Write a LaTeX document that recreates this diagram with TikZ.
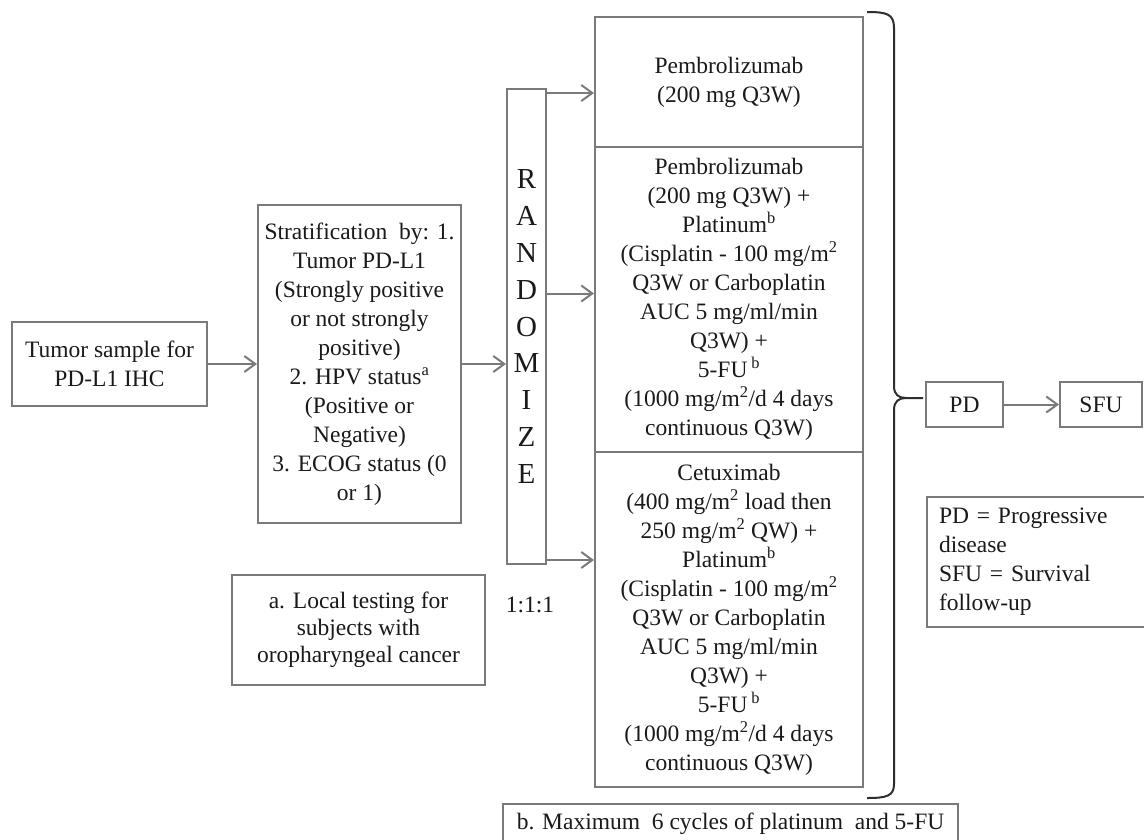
\documentclass[tikz,border=0pt]{standalone}
\usepackage{fontspec}
\setmainfont{Liberation Serif}
\usetikzlibrary{arrows.meta}
\definecolor{ln}{HTML}{7A7A7A}
\definecolor{tx}{HTML}{1A1A1A}
\definecolor{br}{HTML}{2E2E2E}
\begin{document}
\begin{tikzpicture}[x=1pt,y=-1pt,
  box/.style={draw=ln, line width=2pt, rectangle, inner sep=0pt, align=center, text=tx,
    font=\fontsize{23.5}{29}\selectfont},
  arr/.style={draw=ln, line width=2pt, -{Straight Barb[length=11pt,width=16pt,line width=2pt]}},
  lbl/.style={text=tx, inner sep=0pt, font=\fontsize{23.5}{29}\selectfont}]
\useasboundingbox (0,0) rectangle (1144,839);
\fill[white] (0,0) rectangle (1144,839);

\node[box, minimum width=195pt, minimum height=84pt] (tumor) at (109.5,364)
  {Tumor sample for\\PD-L1 IHC};
\node[box, minimum width=203pt, minimum height=318pt] (strat) at (359.5,364)
  {Stratification~ by: 1.\\Tumor PD-L1\\(Strongly positive\\or not strongly\\positive)\\2. HPV status\textsuperscript{a}\\(Positive or\\Negative)\\3. ECOG status (0\\or 1)};
\node[box, minimum width=39pt, minimum height=475pt, font=\fontsize{29}{36.9}\selectfont] (rand) at (526.5,326.5)
  {R\\A\\N\\D\\O\\M\\I\\Z\\E};
\node[box, minimum width=268pt, minimum height=130pt] (arm1) at (729,82)
  {Pembrolizumab\\(200 mg Q3W)};
\node[box, minimum width=268pt, minimum height=305pt] (arm2) at (729,299.5)
  {Pembrolizumab\\(200 mg Q3W) +\\Platinum\textsuperscript{b}\\(Cisplatin - 100 mg/m\textsuperscript{2}\\Q3W or Carboplatin\\AUC 5 mg/ml/min\\Q3W) +\\5-FU\,\textsuperscript{b}\\(1000 mg/m\textsuperscript{2}/d 4 days\\continuous Q3W)};
\node[box, minimum width=268pt, minimum height=335pt] (arm3) at (729,619.5)
  {Cetuximab\\(400 mg/m\textsuperscript{2} load then\\250 mg/m\textsuperscript{2} QW) +\\Platinum\textsuperscript{b}\\(Cisplatin - 100 mg/m\textsuperscript{2}\\Q3W or Carboplatin\\AUC 5 mg/ml/min\\Q3W) +\\5-FU\,\textsuperscript{b}\\(1000 mg/m\textsuperscript{2}/d 4 days\\continuous Q3W)};
\node[box, minimum width=77pt, minimum height=45pt] (pd) at (964.5,404.5) {PD};
\node[box, minimum width=82pt, minimum height=45pt] (sfu) at (1101,404.5) {SFU};
\node[box, anchor=north west, minimum width=230pt, minimum height=130pt, text width=206pt, align=left] (legend) at (926,496)
  {PD = Progressive\\disease\\SFU = Survival\\follow-up};
\node[box, minimum width=253pt, minimum height=110pt, font=\fontsize{23.5}{27}\selectfont] (notea) at (358.5,630)
  {a. Local testing for\\subjects with\\oropharyngeal cancer};
\node[box, anchor=north, minimum width=455pt, minimum height=40pt] (noteb) at (730.5,803)
  {b. Maximum~ 6 cycles of platinum~ and 5-FU};
\node[lbl] (ratio) at (530,605) {1:1:1};

\draw[arr] (tumor.east) -- (tumor.east -| strat.west);
\draw[arr] (strat.east) -- (strat.east -| rand.west);
\draw[arr] ([yshift=-5pt]rand.north east) -- ([yshift=-5pt]rand.north east -| arm1.west);
\draw[arr] ([yshift=33pt]rand.east) -- ([yshift=33pt]rand.east -| arm2.west);
\draw[arr] ([yshift=5pt]rand.south east) -- ([yshift=5pt]rand.south east -| arm3.west);
\draw[arr] (pd) -- (sfu);

\draw[br, line width=2pt, line join=round]
  (867,12) .. controls (887,12) and (894,14) .. (894,28)
  -- (894,386) .. controls (894,395) and (899,398) .. (906,398) -- (923,398);
\draw[br, line width=2pt, line join=round]
  (906,398) .. controls (899,398) and (894,401) .. (894,410)
  -- (894,784) .. controls (894,796) and (887,798) .. (867,798);
\end{tikzpicture}
\end{document}
